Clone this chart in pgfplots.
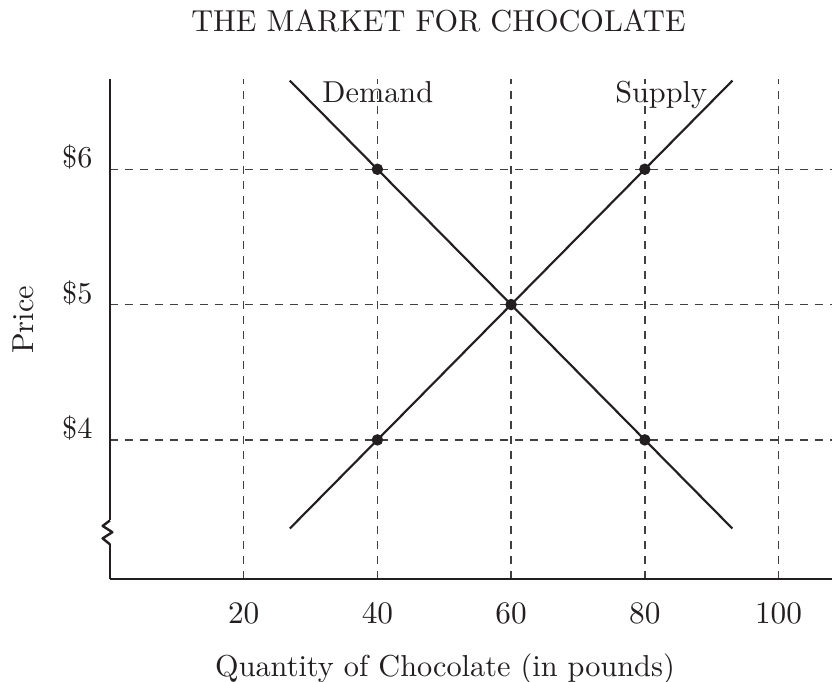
\documentclass[border=0pt]{standalone}
\usepackage{fontspec}
\usepackage{pgfplots}
\pgfplotsset{compat=1.18}
\definecolor{ink}{HTML}{231F20}
\definecolor{gridgray}{HTML}{404040}

\begin{document}
\begin{tikzpicture}[font=\fontsize{10.6}{12.7}\selectfont]
\begin{axis}[
    scale only axis,
    width=252.7pt, height=175pt,
    xmin=0, xmax=108,
    ymin=2.972, ymax=6.667,
    axis lines=left,
    axis line style={-, ink, line width=1pt},
    xtick={20,40,60,80,100},
    ytick={4,5,6},
    yticklabels={\$4,\$5,\$6},
    major tick length=0pt,
    grid=major,
    major grid style={gridgray, line width=0.5pt, dash pattern=on 2.8pt off 2.45pt},
    xticklabel style={anchor=base, inner sep=0pt, yshift=-15.4pt, text=ink},
    yticklabel style={anchor=base east, inner sep=0pt, xshift=-5.95pt, yshift=0.5pt, text=ink},
    every axis title shift=0pt,
    title={THE MARKET FOR CHOCOLATE},
    title style={at={(axis description cs:0.455,1.094)}, anchor=base, inner sep=0pt, text=ink},
    xlabel={Quantity of Chocolate (in pounds)},
    xlabel style={at={(axis description cs:0.464,-0.194)}, anchor=base, inner sep=0pt, text=ink},
    ylabel={Price},
    ylabel style={at={(axis description cs:-0.1066,0.518)}, anchor=base, inner sep=0pt, text=ink},
    clip=false,
]
% demand and supply
\addplot[ink, line width=0.75pt] coordinates {(26.9,6.655) (93.1,3.345)};
\addplot[ink, line width=0.75pt] coordinates {(26.9,3.345) (93.1,6.655)};
% marked points
\addplot[only marks, mark=*, mark size=1.8pt, ink] coordinates {
    (40,6) (80,6) (60,5) (40,4) (80,4)
};
\node[anchor=base west, inner sep=0pt, text=ink] at (axis cs:31.7,6.492) {Demand};
\node[anchor=base west, inner sep=0pt, text=ink] at (axis cs:75.5,6.492) {Supply};

% axis break and picture frame
\coordinate (z0) at (axis cs:0,3.405);
\coordinate (z1) at (axis cs:-1.1,3.364);
\coordinate (z2) at (axis cs:0.35,3.318);
\coordinate (z3) at (axis cs:-1.1,3.272);
\coordinate (z4) at (axis cs:0,3.228);
\coordinate (bb1) at (axis description cs:-0.15235,-0.204);
\coordinate (bb2) at (axis description cs:1,1.158);
\end{axis}
\draw[white, line width=1.7pt] (z0) -- (z4);
\draw[ink, line width=0.85pt, line join=round] (z0) -- (z1) -- (z2) -- (z3) -- (z4);
\pgfresetboundingbox
\path[use as bounding box] (bb1) rectangle (bb2);
\end{tikzpicture}
\end{document}
